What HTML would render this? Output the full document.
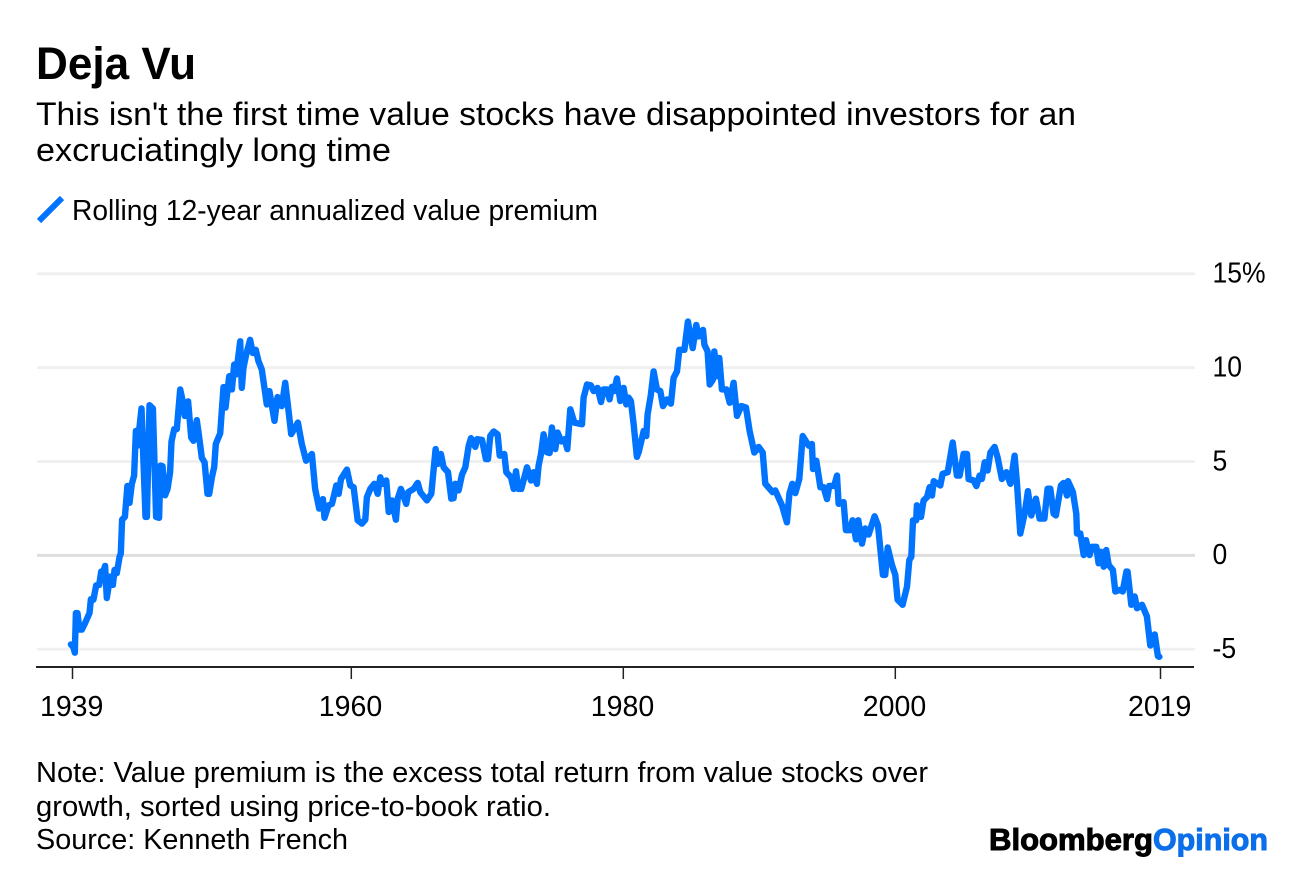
<!DOCTYPE html>
<html lang="en">
<head>
<meta charset="utf-8">
<title>Deja Vu</title>
<style>
html,body{margin:0;padding:0;background:#fff;width:1296px;height:872px;overflow:hidden}
svg{display:block}
text{font-family:"Liberation Sans",Arial,sans-serif;fill:#000}
</style>
</head>
<body>
<svg id="chart" xmlns="http://www.w3.org/2000/svg" width="1296" height="872" viewBox="0 0 1296 872">
  <rect width="1296" height="872" fill="#fff"/>
  <text x="36" y="79" font-size="45" font-weight="700" textLength="160" lengthAdjust="spacingAndGlyphs">Deja Vu</text>
  <text x="36" y="125" font-size="32" textLength="1040" lengthAdjust="spacingAndGlyphs">This isn't the first time value stocks have disappointed investors for an</text>
  <text x="36" y="161" font-size="32" textLength="355" lengthAdjust="spacingAndGlyphs">excruciatingly long time</text>
  <line x1="39" y1="221" x2="62" y2="198" stroke="#0073ff" stroke-width="6"/>
  <text x="72" y="220" font-size="28.5" textLength="526" lengthAdjust="spacingAndGlyphs">Rolling 12-year annualized value premium</text>
  <g id="grid"></g>
  <line x1="36" y1="667" x2="1194" y2="667" stroke="#222" stroke-width="2"/>
  <g id="xticks"></g>
  <g id="ylabels"></g>
  <path id="line" fill="none" stroke="#0073ff" stroke-width="6.4" stroke-linejoin="round" stroke-linecap="round"/>
  <text x="36" y="782" font-size="28.5" textLength="892" lengthAdjust="spacingAndGlyphs">Note: Value premium is the excess total return from value stocks over</text>
  <text x="36" y="816" font-size="28.5" textLength="515" lengthAdjust="spacingAndGlyphs">growth, sorted using price-to-book ratio.</text>
  <text x="36" y="849" font-size="28.5" textLength="312" lengthAdjust="spacingAndGlyphs">Source: Kenneth French</text>
  <text x="989" y="850" font-size="31" font-weight="700" textLength="164" lengthAdjust="spacingAndGlyphs" stroke="#000" stroke-width="1">Bloomberg</text>
  <text x="1153" y="850" font-size="31" font-weight="700" textLength="115" lengthAdjust="spacingAndGlyphs" style="fill:#0a6fe8" stroke="#0a6fe8" stroke-width="1">Opinion</text>
</svg>
<script>
const years = [
1939.38,1939.57,1939.67,1939.75,1939.87,1940.01,1940.19,1940.43,1940.75,1940.85,1941.04,1941.24,1941.46,1941.61,1941.73,1941.9,1942.02,1942.27,1942.47,1942.59,1942.76,1942.96,1943.05,1943.15,1943.35,1943.54,1943.69,1943.86,1944.03,1944.16,1944.28,1944.57,1944.87,1944.97,1945.16,1945.41,1945.65,1945.87,1945.97,1946.12,1946.31,1946.49,1946.68,1946.78,1946.98,1947.17,1947.42,1947.61,1947.76,1948.0,1948.23,1948.4,1948.64,1948.79,1949.01,1949.21,1949.43,1949.55,1949.75,1949.92,1950.04,1950.36,1950.48,1950.6,1950.75,1951.02,1951.22,1951.39,1951.53,1951.83,1951.95,1952.07,1952.27,1952.56,1952.76,1952.98,1953.18,1953.42,1953.79,1953.98,1954.35,1954.57,1954.89,1955.14,1955.33,1955.58,1956.07,1956.36,1956.68,1957.1,1957.34,1957.64,1957.91,1958.03,1958.32,
1958.58,1958.9,1959.07,1959.24,1959.68,1959.93,1960.17,1960.47,1960.78,1961.03,1961.15,1961.4,1961.69,1961.94,1962.13,1962.3,1962.57,1962.75,1962.99,1963.28,1963.41,1963.65,1964.04,1964.19,1964.58,1964.88,1965.07,1965.56,1965.88,1966.2,1966.35,1966.59,1966.79,1967.11,1967.35,1967.52,1967.65,1967.89,1968.14,1968.38,1968.63,1968.8,1969.12,1969.24,1969.61,1969.9,1970.05,1970.22,1970.47,1970.76,1970.91,1971.25,1971.4,1971.74,1971.94,1972.11,1972.28,1972.5,1972.92,1973.21,1973.41,1973.65,1973.77,1973.95,1974.14,1974.39,1974.58,1974.75,1975.0,1975.17,1975.44,1975.69,1975.88,1976.1,1976.4,1976.96,1977.08,1977.33,1977.62,1977.82,1978.11,1978.36,1978.55,1978.8,1978.99,1979.17,1979.34,1979.53,1979.78,
1980.02,1980.22,1980.39,1980.56,1980.76,1981.0,1981.13,1981.5,1981.69,1981.79,1982.03,1982.23,1982.48,1982.72,1982.92,1983.21,1983.5,1983.7,1983.95,1984.12,1984.49,1984.75,1985.1,1985.37,1985.54,1985.86,1985.96,1986.2,1986.35,1986.59,1986.69,1986.89,1987.06,1987.25,1987.57,1987.82,1988.11,1988.36,1988.68,1989.02,1989.29,1989.63,1989.95,1990.25,1990.44,1990.98,1991.18,1991.67,1992.03,1992.21,1992.43,1992.65,1992.94,1993.19,1993.63,1993.87,1993.95,1994.19,1994.49,1994.73,1994.98,1995.15,1995.51,1995.71,1995.83,1996.2,1996.37,1996.64,1996.86,1997.11,1997.28,1997.55,1997.79,1998.04,1998.48,1998.73,1999.09,1999.26,1999.44,1999.75,2000.0,2000.17,2000.54,2000.86,2001.03,2001.18,2001.3,2001.54,2001.59,2001.89,2002.08,2002.33,2002.52,2002.7,2002.82,2003.31,2003.48,2003.85,2004.22,2004.53,2004.73,2005.02,2005.27,2005.39,2005.76,2005.96,2006.2,2006.37,2006.57,2006.79,2006.99,2007.3,2007.52,2007.84,2008.16,2008.46,2008.77,2008.95,2009.19,2009.51,2009.75,2010.0,2010.34,2010.61,2010.96,2011.2,2011.4,2011.64,2011.81,2012.18,2012.38,2012.62,2012.7,2013.06,2013.31,2013.36,2013.6,2013.85,2014.02,2014.29,2014.46,2014.78,2014.95,2015.12,2015.32,2015.51,2015.69,2016.0,2016.18,2016.54,2016.72,2016.99,2017.08,2017.35,2017.6,2017.77,2018.14,2018.5,2018.75,2019.07,2019.31,2019.42
];
const premium = [
-4.74,-4.9,-5.18,-3.07,-3.07,-3.95,-3.95,-3.6,-3.07,-2.33,-2.36,-1.6,-1.57,-0.86,-0.95,-0.56,-2.27,-1.13,-1.57,-0.78,-0.95,-0.07,0.1,1.9,2.05,3.7,2.8,3.8,4.25,6.63,5.84,7.83,2.05,2.05,8.0,7.83,2.05,2.0,4.78,4.75,3.2,3.55,4.43,6.07,6.72,6.72,8.84,8.2,7.43,8.2,6.28,6.1,7.2,6.45,5.2,4.95,3.28,3.28,4.16,4.7,5.93,6.5,7.7,8.96,7.87,9.54,8.84,10.16,9.63,11.4,8.92,10.0,10.7,11.48,10.78,10.95,10.34,9.9,8.04,8.75,7.16,8.43,7.95,9.19,8.04,6.46,7.07,5.93,5.04,5.4,3.55,2.49,3.0,2.0,2.66,
2.75,3.72,3.28,4.07,4.57,3.72,3.63,1.87,1.69,1.9,3.1,3.54,3.81,3.28,4.16,3.81,3.99,2.31,2.93,1.9,3.02,3.54,2.75,3.37,3.54,3.86,3.37,2.93,3.28,5.66,4.87,5.4,4.69,4.43,3.02,3.05,3.81,3.46,4.3,4.69,5.84,6.24,5.78,6.19,6.15,5.13,5.13,6.37,6.6,6.45,5.31,5.4,4.43,4.16,3.54,4.48,3.54,3.54,4.69,3.99,4.43,3.81,4.78,5.4,6.45,5.49,5.45,6.81,5.66,6.54,6.07,6.19,5.66,7.78,7.07,6.98,8.4,9.1,9.05,8.75,8.92,8.17,8.84,8.84,8.31,8.98,8.75,9.42,8.22,
8.92,8.04,8.4,8.22,7.0,5.25,5.5,6.63,6.36,7.5,8.57,9.8,8.83,8.75,7.95,8.3,8.08,9.45,9.8,10.95,10.95,12.45,11.04,12.27,11.66,12.01,11.22,10.86,9.1,9.36,10.86,9.54,10.51,8.84,8.84,8.13,9.19,7.43,7.95,7.87,6.63,5.48,5.78,5.48,3.81,3.37,3.46,2.66,1.76,3.28,3.81,3.32,4.07,6.36,5.84,5.93,4.6,5.04,3.63,3.63,3.0,3.7,3.7,4.25,2.75,2.84,1.34,1.34,1.87,0.85,1.87,0.63,1.43,1.11,2.08,1.6,-1.04,-1.04,0.42,-0.5,-1.04,-2.36,-2.63,-1.66,-0.25,-0.07,1.87,1.87,2.67,2.05,2.93,3.1,3.63,3.19,3.95,3.72,4.34,4.43,6.01,4.25,4.25,5.4,5.4,4.07,3.99,3.69,4.25,4.07,4.96,4.52,5.48,5.78,5.22,4.07,4.43,3.81,5.31,3.81,1.16,2.22,3.42,2.13,3.02,1.96,1.96,3.55,3.55,2.22,2.13,3.72,3.86,3.19,3.95,3.37,2.22,1.16,1.16,0.02,0.81,0.02,0.46,0.46,-0.42,0.19,-0.6,0.28,-0.51,-0.78,-1.92,-1.83,-1.92,-0.86,-0.86,-2.63,-2.19,-2.81,-2.63,-3.25,-4.8,-4.21,-5.36,-5.4
];
const xTickYears = [1939.5,1960,1980,2000,2019.5];
const xTickLabels = ["1939","1960","1980","2000","2019"];
const yTickValues = [15,10,5,0,-5];
const yTickLabels = ["15%","10","5","0","-5"];

function xScale(year){ return 351.3 + (year - 1960) * 13.6; }
function yScale(value){ return 555.4 - value * 18.78; }

const NS = 'http://www.w3.org/2000/svg';
const gridGroup = document.getElementById('grid');
const yGroup = document.getElementById('ylabels');
const xGroup = document.getElementById('xticks');

yTickValues.forEach(function(v, i){
  const g = document.createElementNS(NS, 'line');
  g.setAttribute('x1', 37);
  g.setAttribute('x2', 1195);
  g.setAttribute('y1', yScale(v));
  g.setAttribute('y2', yScale(v));
  g.setAttribute('stroke', v === 0 ? '#dedede' : '#f0f0f0');
  g.setAttribute('stroke-width', 3);
  
  
  gridGroup.appendChild(g);
  const t = document.createElementNS(NS, 'text');
  t.setAttribute('x', 1212.5);
  t.setAttribute('y', yScale(v) + 8.8);
  t.setAttribute('font-size', 28.5);
  t.textContent = yTickLabels[i];
  
  
  yGroup.appendChild(t);
  t.setAttribute('textLength', t.getComputedTextLength() * 0.93);
  t.setAttribute('lengthAdjust', 'spacingAndGlyphs');
});

xTickYears.forEach(function(y, i){
  const l = document.createElementNS(NS, 'line');
  l.setAttribute('x1', xScale(y));
  l.setAttribute('x2', xScale(y));
  l.setAttribute('y1', 667);
  l.setAttribute('y2', 679);
  l.setAttribute('stroke', '#222');
  l.setAttribute('stroke-width', 1.5);
  
  
  xGroup.appendChild(l);
  const t = document.createElementNS(NS, 'text');
  t.setAttribute('x', xScale(y) - 0.8);
  t.setAttribute('y', 716);
  t.setAttribute('font-size', 28.5);
  t.setAttribute('text-anchor', 'middle');
  t.textContent = xTickLabels[i];
  
  
  xGroup.appendChild(t);
});

document.getElementById('line').setAttribute('d', years.map(function(y, i){
  return (i ? 'L' : 'M') + xScale(y).toFixed(1) + ' ' + yScale(premium[i]).toFixed(1);
}).join(''));
</script>
</body>
</html>
